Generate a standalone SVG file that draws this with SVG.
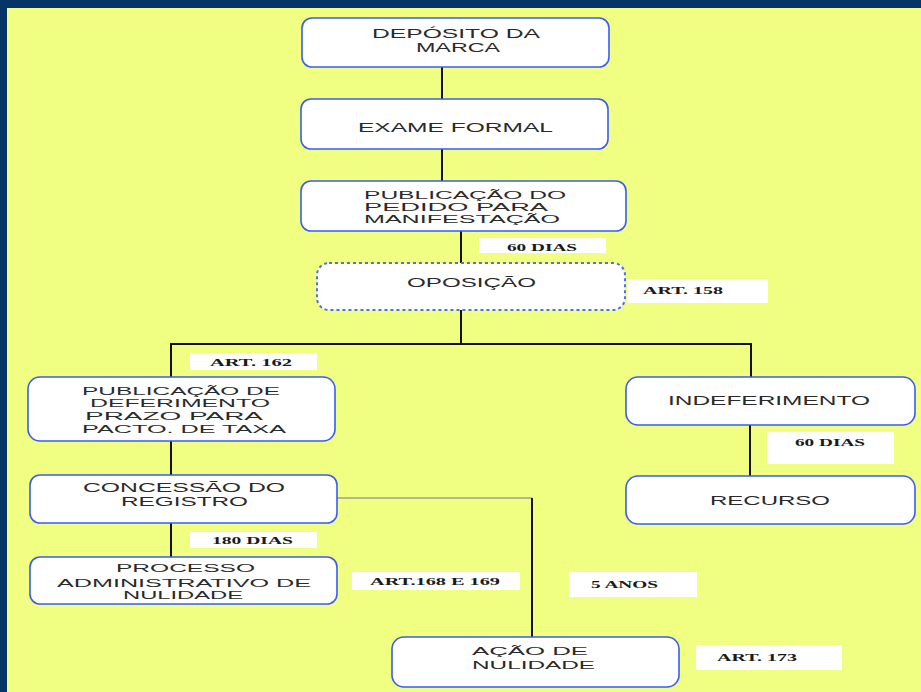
<svg xmlns="http://www.w3.org/2000/svg" width="921" height="692" viewBox="0 0 921 692">
<style>
.node{fill:#ffffff;stroke:#3a5cf0;stroke-width:1.6}
.dash{fill:#ffffff;stroke:#4d6ff5;stroke-width:2;stroke-dasharray:3 3}
.t{font-family:"Liberation Sans",Arial,sans-serif;font-size:13px;fill:#2a2a2a}
.s{font-size:10px}
.m{font-size:11px}
.lb{fill:#ffffff}
.lt{font-family:"Liberation Serif","Times New Roman",serif;font-weight:bold;font-size:11px;fill:#1a1a1a}
.c{stroke:#111111;stroke-width:2;fill:none}
.g{stroke:#a0a090;stroke-width:1.5;fill:none}
</style>
<rect x="0" y="0" width="921" height="692" fill="#063466"/>
<rect x="7" y="8" width="914" height="684" fill="#f0fe82"/>
<g id="connectors">
<line class="c" x1="442" y1="67" x2="442" y2="99"/>
<line class="c" x1="442" y1="149" x2="442" y2="181"/>
<line class="c" x1="461" y1="231" x2="461" y2="263"/>
<line class="c" x1="461" y1="310" x2="461" y2="344"/>
<polyline class="c" points="171,377 171,344 751,344 751,377"/>
<line class="c" x1="171" y1="441" x2="171" y2="475"/>
<line class="c" x1="171" y1="523" x2="171" y2="557"/>
<line class="c" x1="750" y1="425" x2="750" y2="476"/>
<line class="g" x1="337" y1="498" x2="532" y2="498"/>
<line class="c" x1="532" y1="498" x2="532" y2="637"/>
</g>
<g id="labels">
<rect class="lb" x="479" y="238" width="127" height="15"/>
<text class="lt" x="507" y="251" textLength="70" lengthAdjust="spacingAndGlyphs">60 DIAS</text>
<rect class="lb" x="627" y="279" width="141" height="24"/>
<text class="lt" x="643" y="294" textLength="80" lengthAdjust="spacingAndGlyphs">ART. 158</text>
<rect class="lb" x="190" y="353" width="127" height="17"/>
<text class="lt" x="210" y="366" textLength="82" lengthAdjust="spacingAndGlyphs">ART. 162</text>
<rect class="lb" x="767" y="432" width="127" height="32"/>
<text class="lt" x="795" y="446" textLength="70" lengthAdjust="spacingAndGlyphs">60 DIAS</text>
<rect class="lb" x="190" y="532" width="127" height="16"/>
<text class="lt" x="212" y="544" textLength="81" lengthAdjust="spacingAndGlyphs">180 DIAS</text>
<rect class="lb" x="352" y="572" width="168" height="18"/>
<text class="lt" x="370" y="585" textLength="130" lengthAdjust="spacingAndGlyphs">ART.168 E 169</text>
<rect class="lb" x="569" y="572" width="128" height="25"/>
<text class="lt" x="591" y="588" textLength="67" lengthAdjust="spacingAndGlyphs">5 ANOS</text>
<rect class="lb" x="696" y="645" width="146" height="25"/>
<text class="lt" x="717" y="661" textLength="80" lengthAdjust="spacingAndGlyphs">ART. 173</text>
</g>
<g id="deposito">
<rect class="node" x="302" y="18" width="307" height="49" rx="10"/>
<text class="t" x="372" y="38" textLength="168" lengthAdjust="spacingAndGlyphs">DEPÓSITO DA</text>
<text class="t" x="416" y="52" textLength="84" lengthAdjust="spacingAndGlyphs">MARCA</text>
</g>
<g id="exame">
<rect class="node" x="301" y="99" width="307" height="50" rx="10"/>
<text class="t" x="358" y="132" textLength="195" lengthAdjust="spacingAndGlyphs">EXAME FORMAL</text>
</g>
<g id="publicacao">
<rect class="node" x="301" y="181" width="325" height="50" rx="10"/>
<text class="t s" x="364" y="199" textLength="202" lengthAdjust="spacingAndGlyphs">PUBLICAÇÃO DO</text>
<text class="t s" x="364" y="211" textLength="184" lengthAdjust="spacingAndGlyphs">PEDIDO PARA</text>
<text class="t s" x="364" y="223" textLength="196" lengthAdjust="spacingAndGlyphs">MANIFESTAÇÃO</text>
</g>
<g id="oposicao">
<rect class="dash" x="317" y="263" width="308" height="47" rx="12"/>
<text class="t" x="407" y="287" textLength="129" lengthAdjust="spacingAndGlyphs">OPOSIÇÃO</text>
</g>
<g id="deferimento">
<rect class="node" x="28" y="377" width="307" height="64" rx="12"/>
<text class="t s" x="82" y="395" textLength="198" lengthAdjust="spacingAndGlyphs">PUBLICAÇÃO DE</text>
<text class="t s" x="90" y="407" textLength="180" lengthAdjust="spacingAndGlyphs">DEFERIMENTO</text>
<text class="t s" x="85" y="420" textLength="178" lengthAdjust="spacingAndGlyphs">PRAZO PARA</text>
<text class="t s" x="82" y="433" textLength="204" lengthAdjust="spacingAndGlyphs">PACTO. DE TAXA</text>
</g>
<g id="concessao">
<rect class="node" x="30" y="475" width="307" height="48" rx="10"/>
<text class="t" x="83" y="492" textLength="202" lengthAdjust="spacingAndGlyphs">CONCESSÃO DO</text>
<text class="t" x="121" y="506" textLength="127" lengthAdjust="spacingAndGlyphs">REGISTRO</text>
</g>
<g id="processo">
<rect class="node" x="30" y="557" width="307" height="47" rx="10"/>
<text class="t s" x="116" y="572" textLength="139" lengthAdjust="spacingAndGlyphs">PROCESSO</text>
<text class="t s" x="57" y="587" textLength="254" lengthAdjust="spacingAndGlyphs">ADMINISTRATIVO DE</text>
<text class="t s" x="123" y="599" textLength="120" lengthAdjust="spacingAndGlyphs">NULIDADE</text>
</g>
<g id="indeferimento">
<rect class="node" x="626" y="377" width="289" height="48" rx="12"/>
<text class="t" x="668" y="405" textLength="202" lengthAdjust="spacingAndGlyphs">INDEFERIMENTO</text>
</g>
<g id="recurso">
<rect class="node" x="626" y="476" width="289" height="48" rx="12"/>
<text class="t" x="710" y="505" textLength="120" lengthAdjust="spacingAndGlyphs">RECURSO</text>
</g>
<g id="acao">
<rect class="node" x="392" y="637" width="287" height="50" rx="12"/>
<text class="t m" x="472" y="655" textLength="116" lengthAdjust="spacingAndGlyphs">AÇÃO DE</text>
<text class="t m" x="472" y="669" textLength="123" lengthAdjust="spacingAndGlyphs">NULIDADE</text>
</g>
</svg>
